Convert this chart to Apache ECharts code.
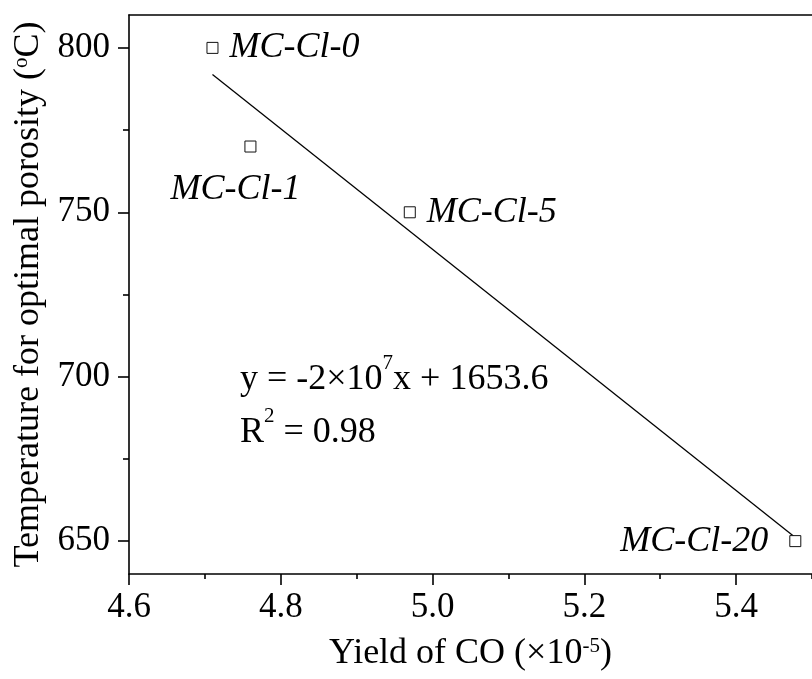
<!DOCTYPE html>
<html>
<head>
<meta charset="utf-8">
<title>Yield of CO vs temperature</title>
<script src="https://cdn.jsdelivr.net/npm/echarts@6/dist/echarts.min.js"></script>
<style>
  html, body { margin: 0; padding: 0; background: #fff; }
  #main { width: 812px; height: 679px; }
</style>
</head>
<body>
<div id="main"></div>
<script>
// 数据
var sampleNames = ['MC-Cl-0', 'MC-Cl-1', 'MC-Cl-5', 'MC-Cl-20'];
var coYield = [4.71, 4.76, 4.97, 5.478];
var optTemp = [800, 770, 750, 650];
var xTicks = [4.6, 4.8, 5.0, 5.2, 5.4];
var xMinorTicks = [4.7, 4.9, 5.1, 5.3, 5.5];
var yTicks = [650, 700, 750, 800];
var yMinorTicks = [675, 725, 775];

var FONT = 'Liberation Serif';

// 线性拟合 (最小二乘)
var n = coYield.length, mx = 0, my = 0;
for (var i = 0; i < n; i++) { mx += coYield[i]; my += optTemp[i]; }
mx /= n; my /= n;
var sxy = 0, sxx = 0;
for (var i = 0; i < n; i++) {
    sxy += (coYield[i] - mx) * (optTemp[i] - my);
    sxx += (coYield[i] - mx) * (coYield[i] - mx);
}
var slope = sxy / sxx, icpt = my - slope * mx;
var xFirst = Math.min.apply(null, coYield), xLast = Math.max.apply(null, coYield);
var fitLine = [[xFirst, slope * xFirst + icpt], [xLast, slope * xLast + icpt]];

// 每个点的标签位置
var labelPlace = [
    { position: 'right', distance: 11 },
    { position: 'inside', offset: [-15, 43] },
    { position: 'right', distance: 11 },
    { position: 'left', distance: 21 }
];

var points = [];
for (var i = 0; i < n; i++) {
    var lp = labelPlace[i];
    points.push({
        value: [coYield[i], optTemp[i]],
        label: {
            show: true,
            formatter: sampleNames[i],
            position: lp.position,
            distance: lp.distance || 0,
            offset: lp.offset || [0, 0],
            color: '#000',
            fontFamily: FONT,
            fontStyle: 'italic',
            fontSize: 36
        }
    });
}

var lineStyle = { color: '#000', width: 1.6 };

var option = {
    animation: false,
    backgroundColor: '#fff',
    grid: { left: 129, top: 15, width: 692, height: 559 },
    xAxis: [
        {
            type: 'value', min: 4.6, max: 5.5, position: 'bottom',
            name: 'Yield of CO (×10{s|-5})',
            nameLocation: 'middle', nameGap: 62,
            nameTextStyle: {
                color: '#000', fontFamily: FONT, fontSize: 36,
                rich: { s: { fontFamily: FONT, fontSize: 21, verticalAlign: 'top', color: '#000' } }
            },
            axisLine: { show: true, onZero: false, lineStyle: lineStyle },
            axisTick: { show: true, inside: false, length: 11, customValues: xTicks, lineStyle: lineStyle },
            axisLabel: {
                customValues: xTicks, margin: 16, formatter: function (v) { return v.toFixed(1); },
                color: '#000', fontFamily: FONT, fontSize: 35
            },
            splitLine: { show: false }
        },
        {
            // 次刻度
            type: 'value', min: 4.6, max: 5.5, position: 'bottom',
            axisLine: { show: false, onZero: false },
            axisTick: { show: true, inside: false, length: 5, customValues: xMinorTicks, lineStyle: lineStyle },
            axisLabel: { show: false },
            splitLine: { show: false }
        },
        {
            // 上边框
            type: 'value', min: 4.6, max: 5.5, position: 'top',
            axisLine: { show: true, onZero: false, lineStyle: lineStyle },
            axisTick: { show: false }, axisLabel: { show: false }, splitLine: { show: false }
        }
    ],
    yAxis: [
        {
            type: 'value', min: 640, max: 810, position: 'left',
            name: 'Temperature for optimal porosity ({s|o}C)',
            nameLocation: 'middle', nameGap: 80, nameRotate: 90,
            nameTextStyle: {
                color: '#000', fontFamily: FONT, fontSize: 36,
                rich: { s: { fontFamily: FONT, fontSize: 21, verticalAlign: 'top', color: '#000' } }
            },
            axisLine: { show: true, onZero: false, lineStyle: lineStyle },
            axisTick: { show: true, inside: false, length: 11, customValues: yTicks, lineStyle: lineStyle },
            axisLabel: {
                customValues: yTicks, margin: 19,
                color: '#000', fontFamily: FONT, fontSize: 35
            },
            splitLine: { show: false }
        },
        {
            // 次刻度
            type: 'value', min: 640, max: 810, position: 'left',
            axisLine: { show: false, onZero: false },
            axisTick: { show: true, inside: false, length: 6, customValues: yMinorTicks, lineStyle: lineStyle },
            axisLabel: { show: false },
            splitLine: { show: false }
        }
    ],
    graphic: [
        {
            type: 'text', left: 240, top: 353,
            style: {
                text: '{a|y = -2×10}{s|7}{a|x + 1653.6}\n{a|R}{s|2}{a| = 0.98}',
                fill: '#000',
                rich: {
                    a: { fontFamily: FONT, fontSize: 36, lineHeight: 53, fill: '#000' },
                    s: { fontFamily: FONT, fontSize: 21, lineHeight: 53, verticalAlign: 'top', fill: '#000' }
                }
            }
        }
    ],
    series: [
        {
            type: 'line',
            xAxisIndex: 0, yAxisIndex: 0,
            data: fitLine,
            symbol: 'none',
            lineStyle: { color: '#000', width: 1.3 },
            z: 2
        },
        {
            type: 'scatter',
            xAxisIndex: 0, yAxisIndex: 0,
            data: points,
            symbol: 'rect',
            symbolSize: 11,
            itemStyle: { color: '#fff', borderColor: '#111', borderWidth: 1, opacity: 1 },
            z: 3
        }
    ]
};

var myChart = echarts.init(document.getElementById('main'));
myChart.setOption(option);
</script>
</body>
</html>
